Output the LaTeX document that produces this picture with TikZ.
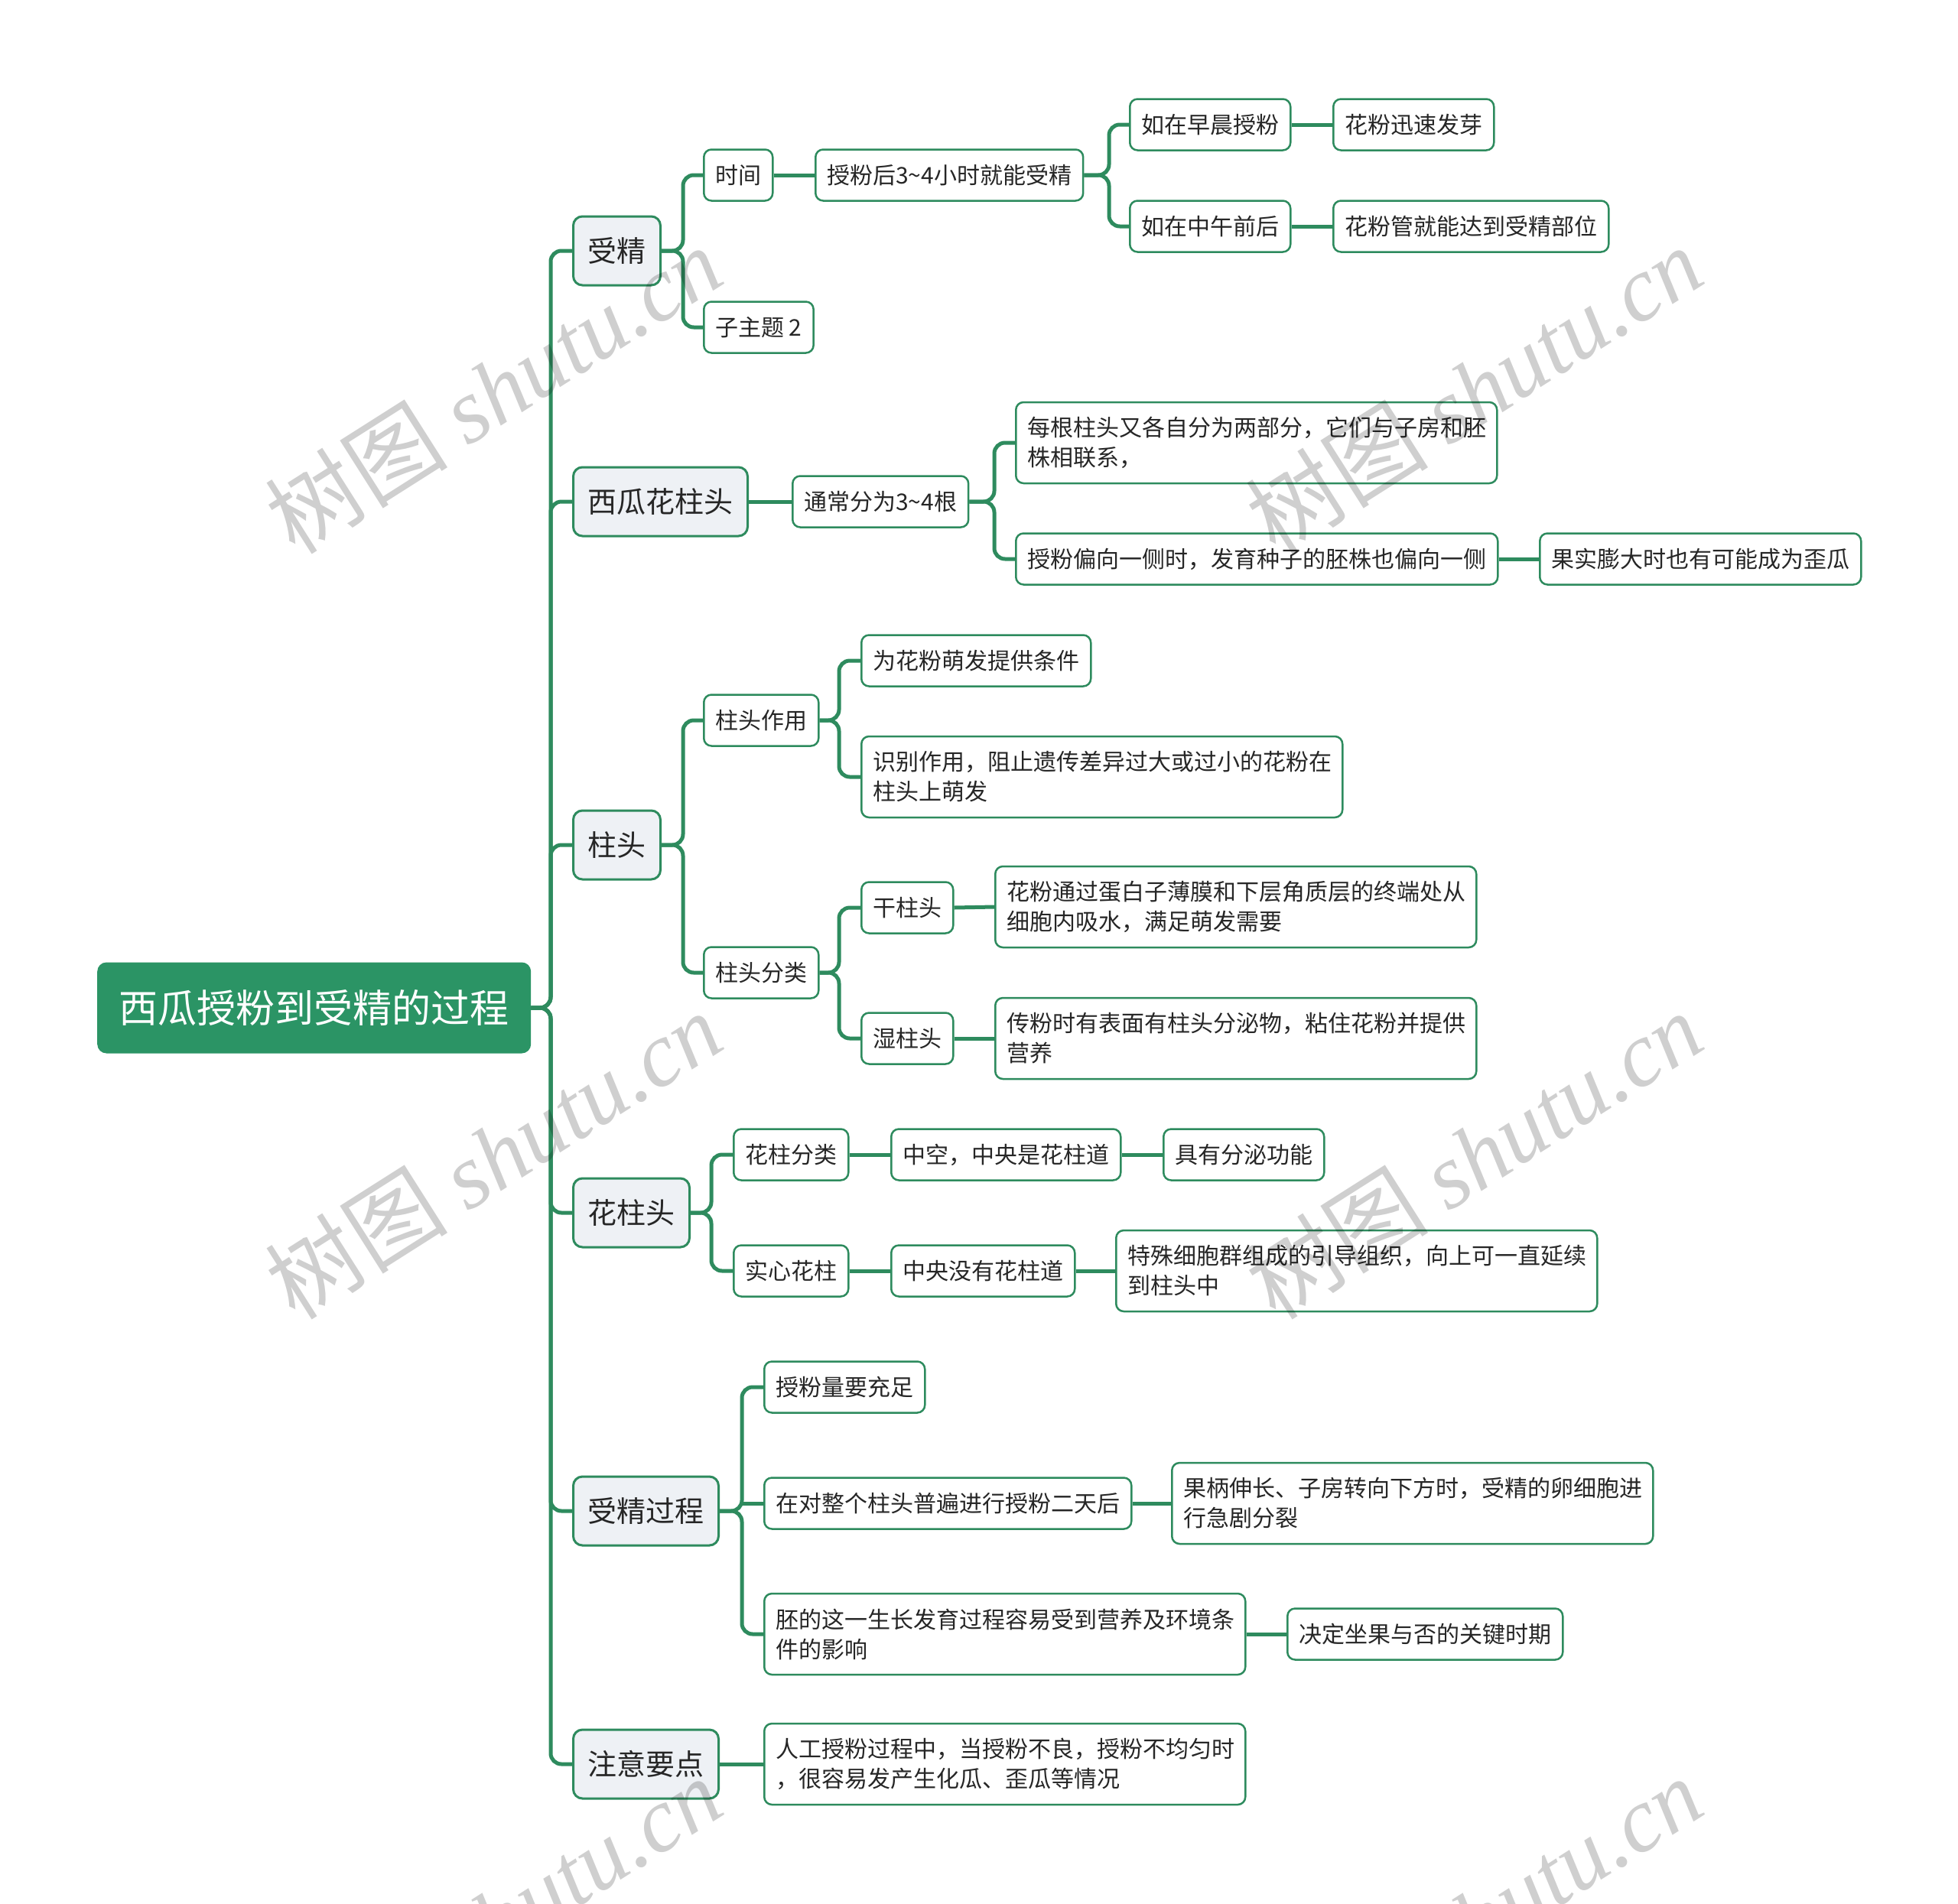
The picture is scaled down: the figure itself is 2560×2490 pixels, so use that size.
\documentclass[tikz,border=0pt]{standalone}
\usepackage{fontspec}
\setmainfont{Noto Sans CJK SC}
\newfontfamily\wmfont{Liberation Serif}
\usetikzlibrary{backgrounds}
\definecolor{lg}{HTML}{2E8B5E}
\definecolor{rootg}{HTML}{2B9465}
\definecolor{lonefill}{HTML}{EEF1F5}
\tikzset{
  conn/.style={draw=lg, line width=5pt, rounded corners=14pt},
  rootbox/.style={draw=none, fill=rootg, text=white, rounded corners=12pt,
    font=\fontsize{51}{60}\selectfont, minimum height=119pt, minimum width=567pt, anchor=west},
  topic/.style={draw=lg, line width=3pt, fill=lonefill, rounded corners=12pt,
    font=\fontsize{38}{46}\selectfont, minimum height=90pt, inner xsep=19pt, anchor=west, text=black!85},
  leaf/.style={draw=lg, line width=2.5pt, fill=white, rounded corners=10pt,
    font=\fontsize{30}{39}\selectfont, minimum height=67pt, inner xsep=15pt, anchor=west, text=black!85},
  leafw/.style={leaf, align=left, text width=599pt, minimum height=106pt},
  wmark/.style={text=black, opacity=0.19, rotate=32.4, font=\fontsize{120}{130}\selectfont},
}
\begin{document}
\begin{tikzpicture}[x=1pt,y=-1pt]
\useasboundingbox (0,0) rectangle (2560,2490);
\begin{scope}[on background layer]
\fill[white] (0,0) rectangle (2560,2490);
\end{scope}

% bus x positions
\coordinate (bR) at (720,0);
\coordinate (bA) at (893,0);
\coordinate (bA1) at (1450,0);
\coordinate (bB) at (1300,0);
\coordinate (bC) at (893,0);
\coordinate (bC1) at (1097,0);
\coordinate (bD) at (930,0);
\coordinate (bE) at (970,0);

% root and topics
\node[rootbox] (root) at (127,1318) {西瓜授粉到受精的过程};
\node[topic] (t1) at (748,328) {受精};
\node[topic] (t2) at (748,656) {西瓜花柱头};
\node[topic] (t3) at (748,1105) {柱头};
\node[topic] (t4) at (748,1586) {花柱头};
\node[topic] (t5) at (748,1976) {受精过程};
\node[topic] (t6) at (748,2307) {注意要点};

% 受精
\node[leaf] (a1) at (919,229) {时间};
\node[leaf] (a2) at (919,428) {子主题 2};
\node[leaf] (a11) at (1065,229) {授粉后3\textasciitilde4小时就能受精};
\node[leaf] (a111) at (1476,163) {如在早晨授粉};
\node[leaf] (a112) at (1476,296) {如在中午前后};
\node[leaf] (a1111) at (1742,163) {花粉迅速发芽};
\node[leaf] (a1121) at (1742,296) {花粉管就能达到受精部位};

% 西瓜花柱头
\node[leaf] (b1) at (1035,656) {通常分为3\textasciitilde4根};
\node[leafw] (b11) at (1327,579) {每根柱头又各自分为两部分，它们与子房和胚\\株相联系，};
\node[leaf] (b12) at (1327,731) {授粉偏向一侧时，发育种子的胚株也偏向一侧};
\node[leaf] (b121) at (2012,731) {果实膨大时也有可能成为歪瓜};

% 柱头
\node[leaf] (c1) at (919,942) {柱头作用};
\node[leaf] (c2) at (919,1272) {柱头分类};
\node[leaf] (c11) at (1125,864) {为花粉萌发提供条件};
\node[leafw] (c12) at (1125,1016) {识别作用，阻止遗传差异过大或过小的花粉在\\柱头上萌发};
\node[leaf] (c21) at (1125,1187) {干柱头};
\node[leaf] (c22) at (1125,1358) {湿柱头};
\node[leafw] (c211) at (1300,1186) {花粉通过蛋白子薄膜和下层角质层的终端处从\\细胞内吸水，满足萌发需要};
\node[leafw] (c221) at (1300,1358) {传粉时有表面有柱头分泌物，粘住花粉并提供\\营养};

% 花柱头
\node[leaf] (d1) at (958,1510) {花柱分类};
\node[leaf] (d2) at (958,1662) {实心花柱};
\node[leaf] (d11) at (1164,1510) {中空，中央是花柱道};
\node[leaf] (d111) at (1520,1510) {具有分泌功能};
\node[leaf] (d21) at (1164,1662) {中央没有花柱道};
\node[leafw] (d211) at (1458,1662) {特殊细胞群组成的引导组织，向上可一直延续\\到柱头中};

% 受精过程
\node[leaf] (e1) at (998,1814) {授粉量要充足};
\node[leaf] (e2) at (998,1966) {在对整个柱头普遍进行授粉二天后};
\node[leafw] (e3) at (998,2137) {胚的这一生长发育过程容易受到营养及环境条\\件的影响};
\node[leafw] (e21) at (1531,1966) {果柄伸长、子房转向下方时，受精的卵细胞进\\行急剧分裂};
\node[leaf] (e31) at (1682,2137) {决定坐果与否的关键时期};

% 注意要点
\node[leafw] (f1) at (998,2307) {人工授粉过程中，当授粉不良，授粉不均匀时\\，很容易发产生化瓜、歪瓜等情况};

% connectors
\begin{scope}[on background layer]
\foreach \t in {t1,t2,t3,t4,t5,t6}
  \draw[conn] (root.east) -- (root.east -| bR) |- (\t.west);
\foreach \c in {a1,a2} \draw[conn] (t1.east) -- (t1.east -| bA) |- (\c.west);
\draw[conn] (a1.east) -- (a11.west);
\foreach \c in {a111,a112} \draw[conn] (a11.east) -- (a11.east -| bA1) |- (\c.west);
\draw[conn] (a111.east) -- (a1111.west);
\draw[conn] (a112.east) -- (a1121.west);

\draw[conn] (t2.east) -- (b1.west);
\foreach \c in {b11,b12} \draw[conn] (b1.east) -- (b1.east -| bB) |- (\c.west);
\draw[conn] (b12.east) -- (b121.west);

\foreach \c in {c1,c2} \draw[conn] (t3.east) -- (t3.east -| bC) |- (\c.west);
\foreach \c in {c11,c12} \draw[conn] (c1.east) -- (c1.east -| bC1) |- (\c.west);
\foreach \c in {c21,c22} \draw[conn] (c2.east) -- (c2.east -| bC1) |- (\c.west);
\draw[conn] (c21.east) -- (c211.west);
\draw[conn] (c22.east) -- (c221.west);

\foreach \c in {d1,d2} \draw[conn] (t4.east) -- (t4.east -| bD) |- (\c.west);
\draw[conn] (d1.east) -- (d11.west);
\draw[conn] (d11.east) -- (d111.west);
\draw[conn] (d2.east) -- (d21.west);
\draw[conn] (d21.east) -- (d211.west);

\foreach \c in {e1,e3} \draw[conn] (t5.east) -- (t5.east -| bE) |- (\c.west);
\draw[conn] (e2.west -| bE) -- (e2.west);
\draw[conn] (e2.east) -- (e21.west);
\draw[conn] (e3.east) -- (e31.west);

\draw[conn] (t6.east) -- (f1.west);
\end{scope}

% watermarks
\foreach \p in {(645,509),(1927,509),(645,1510),(1927,1510),(645,2511),(1927,2511)}
  \node[wmark] at \p {树图 {\wmfont\itshape shutu.cn}};
\end{tikzpicture}
\end{document}
